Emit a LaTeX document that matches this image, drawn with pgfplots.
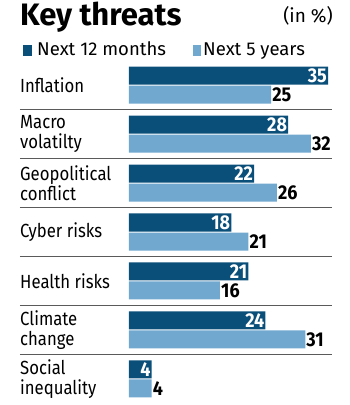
\documentclass[border=0pt]{standalone}
\usepackage{fontspec}
\setmainfont{Fira Sans}
\newfontfamily\catfont[FakeStretch=0.88]{Fira Sans}
\newfontfamily\numfont[FakeStretch=0.9]{Fira Sans}
\usepackage{pgfplots}
\pgfplotsset{compat=1.18}
\definecolor{dark}{RGB}{10,78,122}
\definecolor{light}{RGB}{112,168,208}
\definecolor{sep}{RGB}{90,90,90}
\begin{document}
\begin{tikzpicture}[x=1pt,y=1pt]
\path (0,0) rectangle (350,405);
\node[anchor=base west, inner sep=0pt, font=\bfseries\fontsize{31}{31}\selectfont] at (20,379) {Key threats};
\node[anchor=base east, inner sep=0pt, font=\fontsize{19}{19}\selectfont] at (333,382) {(in \%)};
\fill[dark] (23,349) rectangle (32,360);
\node[anchor=base west, inner sep=0pt, font=\fontsize{18.5}{18.5}\selectfont] at (37,349) {Next 12 months};
\fill[light] (193,349) rectangle (201,360);
\node[anchor=base west, inner sep=0pt, font=\fontsize{18.5}{18.5}\selectfont] at (203,349) {Next 5 years};
\begin{axis}[
  at={(129pt,344.5pt)}, anchor=north west,
  scale only axis, width=204.7pt, height=343pt,
  xmin=0, xmax=36, ymin=-0.5, ymax=6.5, y dir=reverse,
  xbar, bar width=18pt,
  axis line style={draw=none},
  xtick=\empty,
  ytick={0,1,2,3,4,5,6},
  yticklabels={Inflation, {Macro\\volatilty}, {Geopolitical\\conflict}, Cyber risks, Health risks, {Climate\\change}, {Social\\inequality}},
  major tick length=0pt,
  yticklabel style={anchor=west, xshift=-109pt, align=left, inner sep=0pt, font=\catfont\fontsize{19}{20}\selectfont},
  /pgf/number format/assume math mode=true,
  clip=false,
]
\addplot[fill=dark, draw=none, bar shift=9.5pt,
  nodes near coords,
  every node near coord/.style={anchor=east, text=white, inner sep=1pt, yshift=9.5pt, font=\numfont\bfseries\fontsize{20}{20}\selectfont}]
  coordinates {(35,0) (28,1) (22,2) (18,3) (21,4) (24,5) (4,6)};
\addplot[fill=light, draw=none, bar shift=-9.5pt,
  nodes near coords,
  every node near coord/.style={anchor=west, text=black, inner sep=1pt, yshift=-9.5pt, font=\numfont\bfseries\fontsize{20}{20}\selectfont}]
  coordinates {(25,0) (32,1) (26,2) (21,3) (16,4) (31,5) (4,6)};
\draw[sep, line width=0.8pt] ([xshift=-109pt]axis cs:0,0.5) -- (axis cs:35.7,0.5);
\draw[sep, line width=0.8pt] ([xshift=-109pt]axis cs:0,1.5) -- (axis cs:35.7,1.5);
\draw[sep, line width=0.8pt] ([xshift=-109pt]axis cs:0,2.5) -- (axis cs:35.7,2.5);
\draw[sep, line width=0.8pt] ([xshift=-109pt]axis cs:0,3.5) -- (axis cs:35.7,3.5);
\draw[sep, line width=0.8pt] ([xshift=-109pt]axis cs:0,4.5) -- (axis cs:35.7,4.5);
\draw[sep, line width=0.8pt] ([xshift=-109pt]axis cs:0,5.5) -- (axis cs:35.7,5.5);
\end{axis}
\end{tikzpicture}
\end{document}
